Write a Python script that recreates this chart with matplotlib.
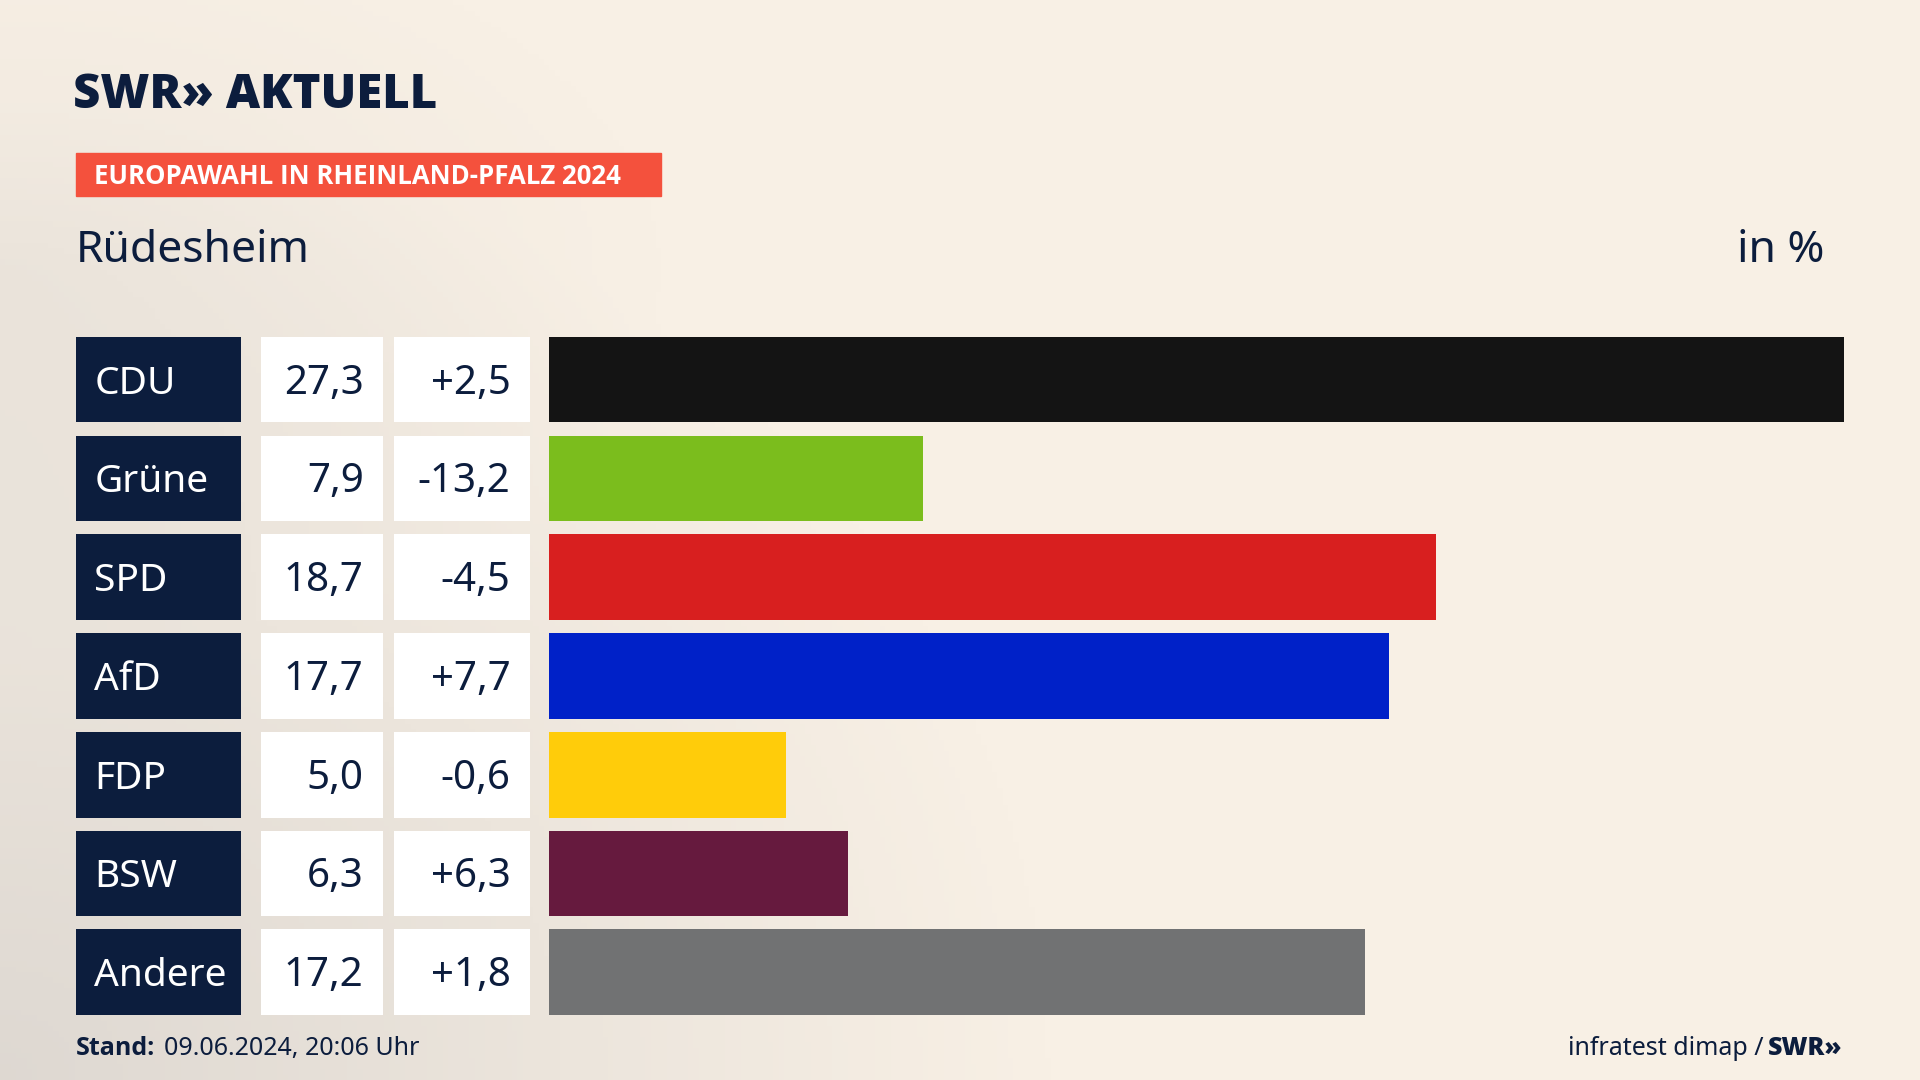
import numpy as np
import matplotlib
matplotlib.use("Agg")
import matplotlib.pyplot as plt
from matplotlib.colors import LinearSegmentedColormap

parties = ["CDU", "Grüne", "SPD", "AfD", "FDP", "BSW", "Andere"]
values = [27.3, 7.9, 18.7, 17.7, 5.0, 6.3, 17.2]
diffs = ["+2,5", "-13,2", "-4,5", "+7,7", "-0,6", "+6,3", "+1,8"]
colors = ["#141414", "#7bbd1d", "#d81f1f", "#0021c8", "#ffcc0a", "#661a3e", "#717273"]

W, H = 1568, 882
NAVY = "#0c1d3d"
FONT = "Noto Sans"
BFONT = "Open Sans"

fig = plt.figure(figsize=(19.2, 10.8), dpi=100)

bg = fig.add_axes([0, 0, 1, 1])
yy, xx = np.mgrid[0:1:200j, 0:1:360j]
d = np.clip(1 - np.sqrt((xx / 0.55) ** 2 + ((1 - yy) / 0.9) ** 2), 0, 1)
d2 = np.clip(1 - np.sqrt((xx / 0.35) ** 2 + ((yy - 0.25) / 0.35) ** 2), 0, 1)
shade = np.clip(0.55 * d + 0.2 * d2, 0, 1)
cmap = LinearSegmentedColormap.from_list("bg", ["#f8f0e5", "#c9c5c2"])
bg.imshow(shade, cmap=cmap, vmin=0, vmax=1, aspect="auto", extent=[0, 1, 0, 1], origin="upper")
bg.set_xlim(0, 1); bg.set_ylim(0, 1); bg.axis("off")

def fx(x): return x / W
def fy(y): return 1 - y / H

fig.text(fx(60), fy(78), "SWR» AKTUELL", fontsize=34, fontweight="heavy", color=NAVY,
         family=BFONT, va="center", ha="left")
fig.patches.append(plt.Rectangle((fx(62), fy(160)), fx(540 - 62), (160 - 125) / H,
                                 transform=fig.transFigure, color="#f4513d", zorder=1))
fig.text(fx(77), fy(144), "EUROPAWAHL IN RHEINLAND-PFALZ 2024", fontsize=18.5, fontweight="bold",
         color="white", family=BFONT, va="center", ha="left")
fig.text(fx(62), fy(205), "Rüdesheim", fontsize=32, color=NAVY, family=FONT, va="center")
fig.text(fx(1490), fy(205), "in %", fontsize=32, color=NAVY, family=FONT, va="center", ha="right")

top, bottom = 275, 829
n = len(parties)
pitch = (bottom - top - 70) / (n - 1)
hfrac = 70 / pitch
ypos = np.arange(n)

tab = fig.add_axes([fx(62), fy(bottom), fx(433 - 62), (bottom - top) / H])
tab.set_xlim(62, 433)
tab.set_ylim(n - 1 + hfrac / 2, -hfrac / 2)
tab.axis("off")
tab.barh(ypos, [197 - 62] * n, left=62, height=hfrac, color=NAVY)
tab.barh(ypos, [313 - 213] * n, left=213, height=hfrac, color="white")
tab.barh(ypos, [433 - 322] * n, left=322, height=hfrac, color="white")
for i in range(n):
    yt = i + 0.04
    tab.text(77, yt, parties[i], color="white", fontsize=28, family=FONT, va="center", ha="left")
    tab.text(297, yt, f"{values[i]:.1f}".replace(".", ","), color=NAVY, fontsize=29,
             family=FONT, va="center", ha="right")
    tab.text(417, yt, diffs[i], color=NAVY, fontsize=29, family=FONT, va="center", ha="right")

bax = fig.add_axes([fx(448), fy(bottom), fx(1506 - 448), (bottom - top) / H])
bax.set_xlim(0, max(values))
bax.set_ylim(n - 1 + hfrac / 2, -hfrac / 2)
bax.axis("off")
bax.barh(ypos, values, height=hfrac, color=colors)

fig.text(fx(62), fy(856), "Stand:", fontsize=18, fontweight="bold", color=NAVY,
         family=BFONT, va="center", ha="left")
fig.text(fx(134), fy(856), "09.06.2024, 20:06 Uhr", fontsize=18, color=NAVY,
         family=FONT, va="center", ha="left")
fig.text(fx(1505), fy(856), "SWR»", fontsize=18, fontweight="heavy", color=NAVY,
         family=BFONT, va="center", ha="right")
fig.text(fx(1440), fy(856), "infratest dimap /", fontsize=18, color=NAVY,
         family=FONT, va="center", ha="right")

fig.savefig("out.png", dpi=100)
